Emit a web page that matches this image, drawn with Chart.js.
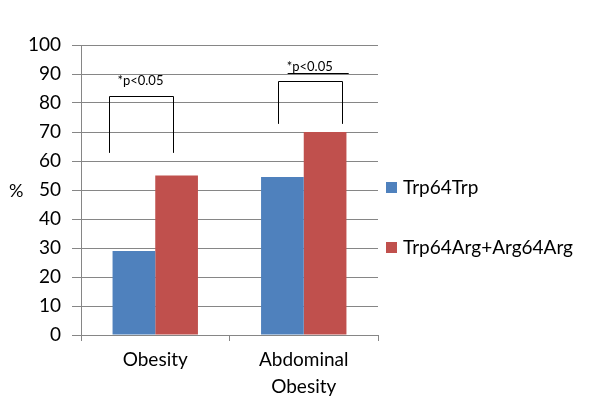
<!DOCTYPE html>
<html>
<head>
<meta charset="utf-8">
<script src="https://cdn.jsdelivr.net/npm/chart.js@4"></script>
<style>
  html, body { margin: 0; padding: 0; background: #fff; }
  #wrap { width: 600px; height: 406px; }
</style>
</head>
<body>
<div id="wrap"><canvas id="chart"></canvas></div>
<script>
const categories = ["Obesity", ["Abdominal", "Obesity"]]
const trpTrp = [29, 54.5]
const trpArg = [55, 70]
const seriesNames = ["Trp64Trp", "Trp64Arg+Arg64Arg"]
const yTicks = [0, 10, 20, 30, 40, 50, 60, 70, 80, 90, 100]

const FONT = "Lato"
const blue = "#4F81BD"
const red = "#C0504D"
const gridColor = "#868686"

// significance brackets: x offsets in category units, y in data units
const brackets = [
    { cat: 0, x1: -0.31, x2: 0.12, low: 62.8, high: 82.4, textX: -0.10, textY: 87.5, underline: false },
    { cat: 1, x1: -0.175, x2: 0.26, low: 72.8, high: 87.6, textX: 0.04, textY: 92.5, underline: true },
]

const extras = {
    id: 'extras',
    afterDraw(chart) {
        const ctx = chart.ctx
        const xs = chart.scales.x
        const ys = chart.scales.y
        const step = xs.getPixelForValue(1) - xs.getPixelForValue(0)
        ctx.save()

        // "%" label
        ctx.fillStyle = "#000"
        ctx.font = "18px " + FONT
        ctx.textAlign = "left"
        ctx.textBaseline = "middle"
        ctx.fillText("%", 9, ys.getPixelForValue(50) + 1)

        // brackets
        ctx.strokeStyle = "#000"
        ctx.lineWidth = 1
        for (const b of brackets) {
            const c = xs.getPixelForValue(b.cat)
            const l = Math.round(c + b.x1 * step) + 0.5
            const r = Math.round(c + b.x2 * step) + 0.5
            const yl = ys.getPixelForValue(b.low)
            const yh = Math.round(ys.getPixelForValue(b.high)) + 0.5
            ctx.beginPath()
            ctx.moveTo(l, yl)
            ctx.lineTo(l, yh)
            ctx.lineTo(r, yh)
            ctx.lineTo(r, yl)
            ctx.stroke()

            const tx = c + b.textX * step
            const ty = ys.getPixelForValue(b.textY)
            ctx.font = "13px " + FONT
            ctx.textAlign = "center"
            ctx.textBaseline = "middle"
            ctx.fillText("*p<0.05", tx, ty)
            if (b.underline) {
                const w = ctx.measureText("*p<0.05").width
                const uy = Math.round(ty + 6) + 0.5
                ctx.beginPath()
                ctx.moveTo(tx - w / 2 + 1, uy)
                ctx.lineTo(tx + w / 2 + 16, uy)
                ctx.stroke()
            }
        }

        // legend
        const ds = chart.data.datasets
        const legendY = [187, 247]
        ctx.font = "19px " + FONT
        ctx.textAlign = "left"
        ctx.textBaseline = "middle"
        ds.forEach((d, i) => {
            ctx.fillStyle = d.backgroundColor
            ctx.fillRect(386, legendY[i] - 5, 11, 11)
            ctx.fillStyle = "#000"
            ctx.fillText(d.label, 403, legendY[i] + 1)
        })
        ctx.restore()
    }
}

new Chart(document.getElementById('chart'), {
    type: 'bar',
    data: {
        labels: categories,
        datasets: [
            { label: seriesNames[0], data: trpTrp, backgroundColor: blue },
            { label: seriesNames[1], data: trpArg, backgroundColor: red },
        ]
    },
    options: {
        responsive: true,
        maintainAspectRatio: false,
        animation: false,
        datasets: {
            bar: { categoryPercentage: 0.575, barPercentage: 1.0 }
        },
        layout: {
            padding: { top: 45, right: 222, left: 0, bottom: 0 }
        },
        scales: {
            x: {
                grid: {
                    drawOnChartArea: false,
                    drawTicks: true,
                    tickLength: 6,
                    color: gridColor,
                },
                border: { color: gridColor },
                ticks: {
                    color: "#000",
                    font: { family: FONT, size: 19, lineHeight: 1.42 },
                    padding: 5,
                    maxRotation: 0,
                },
                afterFit(scale) { scale.height = 71 }
            },
            y: {
                min: 0,
                max: 100,
                afterBuildTicks(scale) { scale.ticks = yTicks.map(v => ({ value: v })) },
                grid: {
                    color: gridColor,
                    tickLength: 9,
                },
                border: { color: gridColor },
                ticks: {
                    color: "#000",
                    font: { family: FONT, size: 19 },
                    padding: 11,
                },
                afterFit(scale) { scale.width = 81 }
            }
        },
        plugins: {
            legend: { display: false },
            tooltip: { enabled: false },
        }
    },
    plugins: [extras]
})
</script>
</body>
</html>
